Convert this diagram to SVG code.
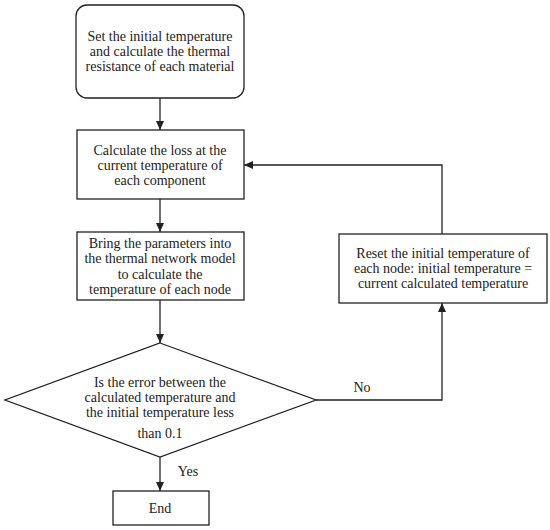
<svg xmlns="http://www.w3.org/2000/svg" width="550" height="530" viewBox="0 0 550 530">
<style>
.box{fill:#fff;stroke:#222;stroke-width:1.3}
.t{font-family:'Liberation Serif','Times New Roman','DejaVu Serif',serif;font-size:14px;fill:#222;text-anchor:middle}
.ln{fill:none;stroke:#222;stroke-width:1.3}
</style>
<defs>
<marker id="ah" markerWidth="10" markerHeight="10" refX="9" refY="5" orient="auto" markerUnits="userSpaceOnUse">
<path d="M0,1 L9,5 L0,9 Z" fill="#222"/>
</marker>
</defs>
<rect width="550" height="530" fill="#fff"/>
<g id="connectors">
<line class="ln" x1="160" y1="98" x2="160" y2="130" marker-end="url(#ah)"/>
<line class="ln" x1="160" y1="199" x2="160" y2="232" marker-end="url(#ah)"/>
<line class="ln" x1="160" y1="300" x2="160" y2="343" marker-end="url(#ah)"/>
<line class="ln" x1="160" y1="457" x2="160" y2="491" marker-end="url(#ah)"/>
<polyline class="ln" points="316,400 442,400 442,303" marker-end="url(#ah)"/>
<polyline class="ln" points="442,234 442,165 244,165" marker-end="url(#ah)"/>
<text class="t" x="362" y="392">No</text>
<text class="t" x="188" y="476">Yes</text>
</g>
<g id="start">
<rect class="box" x="76" y="5" width="168" height="93" rx="11"/>
<text class="t" x="160" y="41">Set the initial temperature</text>
<text class="t" x="160" y="56">and calculate the thermal</text>
<text class="t" x="160" y="71">resistance of each material</text>
</g>
<g id="loss">
<rect class="box" x="77" y="130" width="167" height="69"/>
<text class="t" x="160" y="155">Calculate the loss at the</text>
<text class="t" x="160" y="170">current temperature of</text>
<text class="t" x="160" y="185">each component</text>
</g>
<g id="model">
<rect class="box" x="77" y="232" width="167" height="68"/>
<text class="t" x="160" y="248">Bring the parameters into</text>
<text class="t" x="160" y="263">the thermal network model</text>
<text class="t" x="160" y="279">to calculate the</text>
<text class="t" x="160" y="294">temperature of each node</text>
</g>
<g id="reset">
<rect class="box" x="339" y="234" width="208" height="69"/>
<text class="t" x="443" y="258">Reset the initial temperature of</text>
<text class="t" x="443" y="273">each node: initial temperature =</text>
<text class="t" x="443" y="288">current calculated temperature</text>
</g>
<g id="decision">
<polygon class="box" points="160,343 316,400 160,457 5,400"/>
<text class="t" x="160" y="387">Is the error between the</text>
<text class="t" x="160" y="402">calculated temperature and</text>
<text class="t" x="160" y="417">the initial temperature less</text>
<text class="t" x="160" y="438">than 0.1</text>
</g>
<g id="end">
<rect class="box" x="113" y="491" width="96" height="34"/>
<text class="t" x="160" y="513">End</text>
</g>
</svg>
